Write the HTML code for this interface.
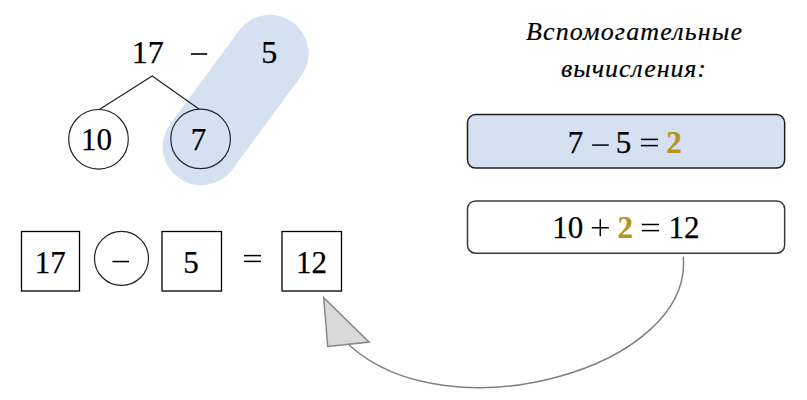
<!DOCTYPE html>
<html><head><meta charset="utf-8">
<style>
html,body{margin:0;padding:0;background:#fff;}
body{width:807px;height:400px;overflow:hidden;position:relative;}
svg{position:absolute;left:0;top:0;}
text{font-family:"Liberation Serif",serif;fill:#000;stroke:#000;stroke-width:0.25px;}
</style></head>
<body>
<svg width="807" height="400" viewBox="0 0 807 400">
  <!-- blue pill -->
  <line x1="201.2" y1="146.8" x2="270.1" y2="53.3" stroke="#d5e0f0" stroke-width="77" stroke-linecap="round"/>
  <!-- tree lines -->
  <polyline points="99.7,109.3 152.2,76 199.3,109.3" fill="none" stroke="#222" stroke-width="1.2"/>
  <!-- circles -->
  <circle cx="98.5" cy="139.3" r="29.8" fill="none" stroke="#222" stroke-width="1.2"/>
  <circle cx="200.6" cy="138.9" r="29.8" fill="none" stroke="#1f2835" stroke-width="1.2"/>
  <text x="147.7" y="63" font-size="32" text-anchor="middle">17</text>
  <rect x="191" y="53.2" width="16.2" height="1.6" fill="#000"/>
  <text x="269.2" y="63" font-size="32" text-anchor="middle">5</text>
  <text x="96.6" y="150" font-size="31" text-anchor="middle">10</text>
  <text x="198.6" y="150" font-size="31" text-anchor="middle">7</text>

  <!-- equation row -->
  <rect x="21.5" y="231.5" width="58" height="59.5" fill="none" stroke="#000" stroke-width="1.3"/>
  <circle cx="121.5" cy="258.4" r="27" fill="none" stroke="#222" stroke-width="1.2"/>
  <rect x="162" y="231.5" width="59.5" height="59.5" fill="none" stroke="#000" stroke-width="1.3"/>
  <rect x="282" y="231.5" width="59.5" height="59.5" fill="none" stroke="#000" stroke-width="1.3"/>
  <text x="50.2" y="273" font-size="31" text-anchor="middle">17</text>
  <rect x="112.4" y="260.8" width="16.6" height="1.5" fill="#000"/>
  <text x="191.1" y="273" font-size="31" text-anchor="middle">5</text>
  <rect x="244.1" y="254.85" width="16.8" height="1.5" fill="#000"/>
  <rect x="244.1" y="260.65" width="16.8" height="1.5" fill="#000"/>
  <text x="311.5" y="273" font-size="31" text-anchor="middle">12</text>

  <!-- heading -->
  <text x="526" y="39.5" font-size="26" font-style="italic" style="stroke-width:0.2px" textLength="216" lengthAdjust="spacing">Вспомогательные</text>
  <text x="561" y="77" font-size="26" font-style="italic" style="stroke-width:0.2px" textLength="145" lengthAdjust="spacing">вычисления:</text>

  <!-- right boxes -->
  <rect x="467.5" y="114.6" width="317.15" height="53.4" rx="8" fill="#d5e0f0" stroke="#1e1e1e" stroke-width="1.5"/>
  <rect x="467.5" y="200.9" width="317.15" height="52.3" rx="8" fill="#fff" stroke="#3a3a3a" stroke-width="1.5"/>
  <text x="575.5" y="153" font-size="31" text-anchor="middle">7</text>
  <rect x="592.1" y="144.35" width="16.6" height="1.5" fill="#000"/>
  <text x="623.6" y="153" font-size="31" text-anchor="middle">5</text>
  <rect x="640.9" y="138.65" width="17.1" height="1.5" fill="#000"/>
  <rect x="640.9" y="144.85" width="17.1" height="1.5" fill="#000"/>
  <text x="674" y="153" font-size="31" text-anchor="middle" font-weight="bold" fill="#b8921e" style="fill:#b8921e;stroke:#b8921e;stroke-width:0.2px">2</text>

  <text x="567.7" y="238" font-size="31" text-anchor="middle">10</text>
  <rect x="591.8" y="227" width="17" height="1.5" fill="#000"/>
  <rect x="599.55" y="219.2" width="1.5" height="17" fill="#000"/>
  <text x="625.3" y="238" font-size="31" text-anchor="middle" font-weight="bold" style="fill:#b8921e;stroke:#b8921e;stroke-width:0.2px">2</text>
  <rect x="641.8" y="223.75" width="17.2" height="1.5" fill="#000"/>
  <rect x="641.8" y="229.85" width="17.2" height="1.5" fill="#000"/>
  <text x="684" y="238" font-size="31" text-anchor="middle">12</text>

  <!-- arrow curve -->
  <path d="M683.2,256.6 C693.4,368.1 449,436.5 349.1,345" fill="none" stroke="#808080" stroke-width="1.5"/>
  <polygon points="323.7,297.8 327.7,346.4 369.2,342.1" fill="#d9d9d9" stroke="#888" stroke-width="1.5" stroke-linejoin="miter"/>
</svg>
</body></html>
